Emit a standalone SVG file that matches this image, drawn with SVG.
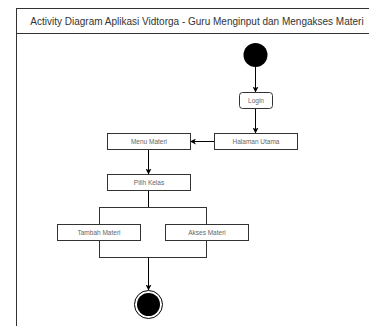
<svg xmlns="http://www.w3.org/2000/svg" width="369" height="326" viewBox="0 0 369 326">
<style>
.frame{fill:#fff;stroke:#333;stroke-width:1}
.box{fill:#fff;stroke:#333;stroke-width:1}
.lbl{font-family:"Liberation Sans",Arial,sans-serif;font-size:6.5px;fill:#666;text-anchor:middle;dominant-baseline:central}
.title{font-family:"Liberation Sans",Arial,sans-serif;font-size:10px;fill:#333;text-anchor:middle;dominant-baseline:central}
.edge{fill:none;stroke:#000;stroke-width:1}
.bar{fill:none;stroke:#333;stroke-width:1}
</style>
<defs>
<marker id="arr" viewBox="0 0 10 10" refX="9" refY="5" markerWidth="6" markerHeight="6" markerUnits="userSpaceOnUse" orient="auto">
<path d="M0,0 L10,5 L0,10 L2.5,5 Z" fill="#000"/>
</marker>
</defs>
<rect width="369" height="326" fill="#fff"/>
<g id="frame">
<rect class="frame" x="16.5" y="8.5" width="360" height="330"/>
<line class="frame" x1="16.5" y1="33.5" x2="376.5" y2="33.5"/>
<text class="title" x="197" y="21">Activity Diagram Aplikasi Vidtorga - Guru Menginput dan Mengakses Materi</text>
</g>
<g id="connectors">
<line class="edge" x1="255.5" y1="67" x2="255.5" y2="92" marker-end="url(#arr)"/>
<line class="edge" x1="255.5" y1="108" x2="255.5" y2="133" marker-end="url(#arr)"/>
<line class="edge" x1="214" y1="141.5" x2="190.5" y2="141.5" marker-end="url(#arr)"/>
<line class="edge" x1="148.5" y1="150" x2="148.5" y2="174" marker-end="url(#arr)"/>
<line class="edge" x1="148.5" y1="191" x2="148.5" y2="207.5"/>
<rect class="bar" x="99.5" y="207.5" width="107" height="50"/>
<line class="edge" x1="148.5" y1="257.5" x2="148.5" y2="290" marker-end="url(#arr)"/>
</g>
<g id="start">
<circle cx="255.5" cy="55" r="12" fill="#000"/>
</g>
<g id="login">
<rect class="box" x="239.5" y="92.5" width="33" height="16" rx="3"/>
<text class="lbl" x="256" y="100.5">Login</text>
</g>
<g id="halaman-utama">
<rect class="box" x="214.5" y="133.5" width="83" height="16"/>
<text class="lbl" x="256" y="141.5">Halaman Utama</text>
</g>
<g id="menu-materi">
<rect class="box" x="107.5" y="133.5" width="83" height="16"/>
<text class="lbl" x="149" y="141.5">Menu Materi</text>
</g>
<g id="pilih-kelas">
<rect class="box" x="107.5" y="174.5" width="83" height="16"/>
<text class="lbl" x="149" y="182.5">Pilih Kelas</text>
</g>
<g id="tambah-materi">
<rect class="box" x="57.5" y="224.5" width="83" height="16"/>
<text class="lbl" x="99" y="232.5">Tambah Materi</text>
</g>
<g id="akses-materi">
<rect class="box" x="165.5" y="224.5" width="83" height="16"/>
<text class="lbl" x="207" y="232.5">Akses Materi</text>
</g>
<g id="end">
<circle cx="148.5" cy="304.5" r="14" fill="#fff" stroke="#000" stroke-width="1"/>
<circle cx="148.5" cy="304.5" r="11.5" fill="#000"/>
</g>
</svg>
